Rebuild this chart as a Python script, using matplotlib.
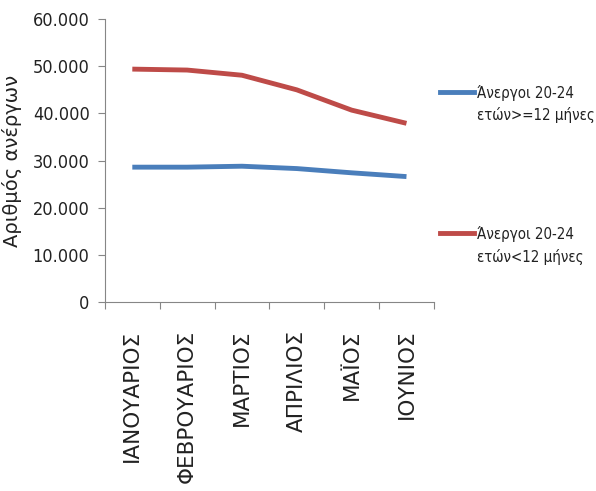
import matplotlib.pyplot as plt
from matplotlib.lines import Line2D
from matplotlib.ticker import FuncFormatter
import matplotlib.font_manager as fm

months = ["ΙΑΝΟΥΑΡΙΟΣ", "ΦΕΒΡΟΥΑΡΙΟΣ", "ΜΑΡΤΙΟΣ", "ΑΠΡΙΛΙΟΣ", "ΜΑΪΟΣ", "ΙΟΥΝΙΟΣ"]
long_term = [28600, 28600, 28800, 28300, 27400, 26600]
short_term = [49400, 49200, 48100, 45000, 40700, 37900]
labels = ["Άνεργοι 20-24\nετών>=12 μήνες", "Άνεργοι 20-24\nετών<12 μήνες"]
colors = ["#4a7ebb", "#be4b48"]

narrow = fm.FontProperties(family="DejaVu Sans", stretch="condensed")

fig = plt.figure(figsize=(5.96, 4.91), dpi=100)
ax = fig.add_axes([0.176, 0.385, 0.552, 0.576])

x = range(len(months))
ax.plot(x, long_term, color=colors[0], lw=3.5, solid_capstyle="butt")
ax.plot(x, short_term, color=colors[1], lw=3.5, solid_capstyle="butt")

ax.set_xlim(-0.5, len(months) - 0.5)
ax.set_ylim(0, 60000)
ax.set_yticks(range(0, 60001, 10000))
ax.yaxis.set_major_formatter(FuncFormatter(lambda v, p: f"{int(v):,}".replace(",", ".")))
ax.set_xticks([i - 0.5 for i in range(len(months) + 1)], minor=False)
ax.set_xticklabels([])
ax.set_xticks(list(x), minor=True)
ax.set_xticklabels(months, minor=True, rotation=90, fontsize=15.5, family="DejaVu Sans",
                   va="top", color="#222222")
ax.tick_params(axis="x", which="minor", length=0, pad=20)
ax.tick_params(axis="x", which="major", length=5, color="#868686", direction="out")
ax.tick_params(axis="y", length=5, color="#868686", pad=6)
for t in ax.get_yticklabels():
    t.set_fontproperties(narrow)
    t.set_fontsize(13)
    t.set_color("#222222")

for s in ["top", "right"]:
    ax.spines[s].set_visible(False)
for s in ["left", "bottom"]:
    ax.spines[s].set_color("#868686")

ax.set_ylabel("Αριθμός ανέργων", fontsize=14, family="DejaVu Sans", labelpad=8, color="#222222")

ys = [0.813, 0.525]
for lab, c, yy in zip(labels, colors, ys):
    fig.add_artist(Line2D([0.738, 0.795], [yy, yy], color=c, lw=3.5, transform=fig.transFigure))
    fig.text(0.800, yy + 0.014, lab, fontproperties=narrow, fontsize=10.8, va="top", ha="left",
             linespacing=1.5, color="#222222")

fig.savefig("out.png")
